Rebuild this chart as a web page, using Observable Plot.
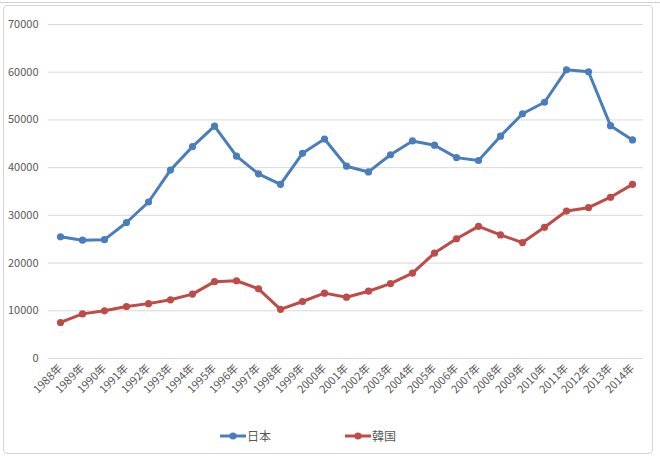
<!DOCTYPE html>
<html>
<head>
<meta charset="utf-8">
<script src="https://cdn.jsdelivr.net/npm/d3@7"></script>
<script src="https://cdn.jsdelivr.net/npm/@observablehq/plot@0.6"></script>
<style>
  html, body { margin: 0; padding: 0; background: #fff; }
  body { width: 660px; height: 459px; position: relative; overflow: hidden;
         font-family: "Noto Sans CJK JP", "Noto Sans", sans-serif; }
  #frame { position: absolute; left: 3px; top: 5px; width: 650px; height: 449px;
           border: 1px solid #d4d4d4; border-radius: 4px; box-sizing: border-box; }
  #topline { position: absolute; left: 0; top: 0; width: 660px; height: 3px;
             border-bottom: 1px solid #d0d0d0; box-sizing: border-box; }
  #chart { position: absolute; left: 0; top: 0; }
  #legend { position: absolute; top: 427px; left: 0; width: 660px; height: 20px;
            font-size: 12px; color: #595959; }
  .item { position: absolute; display: flex; align-items: center; gap: 1px; }
  .item svg { display: block; }
</style>
</head>
<body>
<div id="topline"></div>
<div id="frame"></div>
<div id="chart"></div>
<div id="legend"></div>
<script>
const years = ["1988年","1989年","1990年","1991年","1992年","1993年","1994年","1995年","1996年","1997年","1998年","1999年","2000年","2001年","2002年","2003年","2004年","2005年","2006年","2007年","2008年","2009年","2010年","2011年","2012年","2013年","2014年"];
const japan = [25500,24800,24900,28500,32800,39500,44400,48700,42400,38700,36500,43000,46000,40300,39100,42700,45600,44700,42100,41500,46600,51300,53700,60500,60100,48800,45800];
const korea = [7550,9350,9990,10900,11500,12300,13500,16100,16300,14600,10300,11950,13700,12850,14100,15700,17900,22100,25100,27700,25900,24300,27500,30900,31600,33800,36500];
const yTicks = [0,10000,20000,30000,40000,50000,60000,70000];
const seriesNames = ["日本","韓国"];
const colors = ["#4a7ebb","#be4b48"];

const data = [];
years.forEach((y, i) => {
  data.push({year: y, value: japan[i], series: seriesNames[0]});
  data.push({year: y, value: korea[i], series: seriesNames[1]});
});

const chart = Plot.plot({
  width: 660,
  height: 410,
  marginLeft: 48,
  marginRight: 17,
  marginTop: 24,
  marginBottom: 52,
  style: {fontFamily: '"Noto Sans CJK JP", "Noto Sans", sans-serif', fontSize: "11px", color: "#595959", background: "transparent"},
  x: {type: "point", domain: years, padding: 0.5, label: null},
  y: {domain: [0, 70000], label: null},
  color: {domain: seriesNames, range: colors},
  marks: [
    Plot.ruleY(yTicks, {stroke: "#d9d9d9", strokeWidth: 1}),
    Plot.axisY({ticks: yTicks, tickSize: 0, tickPadding: 10, tickFormat: d => String(d), fill: "#595959", fontSize: 11, label: null}),
    Plot.axisX({tickRotate: -45, tickSize: 0, tickPadding: 8, fill: "#595959", fontSize: 11, label: null}),
    Plot.line(data, {x: "year", y: "value", z: "series", stroke: "series", strokeWidth: 3, strokeLinejoin: "round"}),
    Plot.dot(data, {x: "year", y: "value", fill: "series", r: 3.6, stroke: "none"})
  ]
});
document.getElementById("chart").appendChild(chart);

const legend = document.getElementById("legend");
const positions = [220, 345];
seriesNames.forEach((name, i) => {
  const item = document.createElement("div");
  item.className = "item";
  item.style.left = positions[i] + "px";
  item.innerHTML = `<svg width="26" height="16"><line x1="0" y1="8" x2="26" y2="8" stroke="${colors[i]}" stroke-width="3"/><circle cx="13" cy="8" r="3.6" fill="${colors[i]}"/></svg><span>${name}</span>`;
  legend.appendChild(item);
});
</script>
</body>
</html>
